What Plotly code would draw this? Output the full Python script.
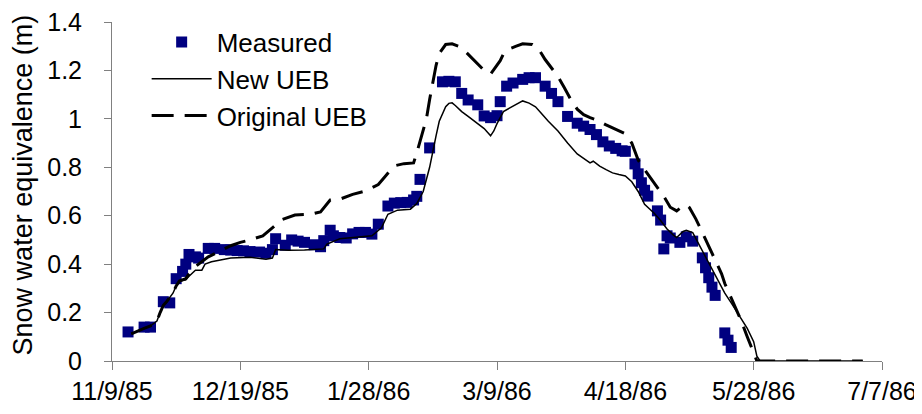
import pandas as pd
import plotly.graph_objects as go

# x values are days after 11/9/85
start = pd.Timestamp("1985-11-09")

measured_day = [5, 10, 12, 16, 18, 20, 22, 23, 24, 26, 27, 30, 32, 35, 37, 39, 41, 43, 46, 48,
                50, 51, 54, 56, 58, 60, 63, 65, 66, 68, 69, 71, 73, 75, 77, 79, 81, 83, 86, 88,
                90, 92, 94, 95, 96, 99, 103, 105, 107, 109, 111, 114, 116, 118, 120, 121, 123, 125, 128, 130,
                132, 135, 137, 139, 142, 145, 147, 149, 151, 153, 155, 157, 159, 160, 163, 164, 165, 166, 167, 170,
                171, 172, 173, 174, 177, 179, 181, 184, 185, 186, 187, 188, 191, 192, 193]
measured_swe = [0.12, 0.14, 0.14, 0.245, 0.24, 0.34, 0.37, 0.40, 0.44, 0.43, 0.425, 0.465, 0.465, 0.46, 0.458, 0.456, 0.455, 0.452, 0.45, 0.445,
                0.46, 0.505, 0.478, 0.50, 0.495, 0.49, 0.48, 0.472, 0.497, 0.54, 0.517, 0.51, 0.508, 0.525, 0.531, 0.531, 0.524, 0.565, 0.64, 0.652,
                0.654, 0.655, 0.665, 0.68, 0.75, 0.88, 1.153, 1.155, 1.153, 1.105, 1.078, 1.058, 1.012, 1.005, 1.013, 1.071, 1.135, 1.148, 1.163, 1.17,
                1.17, 1.135, 1.105, 1.071, 1.01, 0.982, 0.97, 0.956, 0.935, 0.905, 0.888, 0.878, 0.868, 0.866, 0.814, 0.773, 0.736, 0.705, 0.681, 0.62,
                0.582, 0.463, 0.517, 0.508, 0.49, 0.513, 0.495, 0.426, 0.385, 0.344, 0.305, 0.271, 0.116, 0.086, 0.056]

new_day = [6, 8, 10, 12, 13, 14, 15, 16, 17, 19, 20, 21, 23, 24, 26, 28, 29, 31, 33, 37,
           43, 48, 50, 51, 55, 60, 66, 67, 71, 76, 81, 84, 86, 89, 93, 95, 97, 99, 100, 101,
           102, 104, 105, 106, 107, 109, 111, 113, 116, 118, 119, 120, 122, 124, 126, 128, 130, 132, 134, 136,
           139, 142, 145, 147, 149, 150, 152, 154, 156, 158, 160, 162, 164, 166, 169, 171, 173, 175, 176, 178,
           179, 181, 183, 185, 187, 188, 191, 193, 195, 198, 200, 201, 202, 234]
new_swe = [0.112, 0.125, 0.135, 0.145, 0.155, 0.165, 0.20, 0.23, 0.245, 0.28, 0.31, 0.33, 0.335, 0.35, 0.375, 0.375, 0.40, 0.41, 0.415, 0.425,
           0.428, 0.42, 0.425, 0.46, 0.457, 0.458, 0.463, 0.483, 0.505, 0.51, 0.517, 0.55, 0.606, 0.623, 0.627, 0.65, 0.70, 0.80, 0.87, 0.93,
           0.99, 1.05, 1.064, 1.066, 1.055, 1.03, 1.01, 0.99, 0.96, 0.93, 0.95, 0.98, 1.03, 1.045, 1.06, 1.074, 1.065, 1.05, 1.02, 0.99,
           0.95, 0.90, 0.855, 0.835, 0.818, 0.825, 0.805, 0.79, 0.777, 0.77, 0.764, 0.74, 0.70, 0.647, 0.61, 0.58, 0.545, 0.52, 0.51, 0.535,
           0.54, 0.53, 0.48, 0.43, 0.385, 0.36, 0.28, 0.24, 0.20, 0.135, 0.08, 0.02, 0.0, 0.0]

orig_day = [6, 8, 10, 12, 13, 14, 15, 16, 17, 19, 20, 21, 23, 24, 26, 28, 30, 33, 37, 40,
            43, 47, 50, 53, 57, 62, 65, 68, 71, 75, 79, 83, 85, 88, 91, 94, 95, 96, 98, 99,
            100, 101, 102, 104, 106, 108, 110, 113, 116, 118, 119, 121, 122, 124, 126, 128, 131, 133, 135, 137,
            139, 141, 143, 145, 147, 149, 151, 154, 157, 160, 162, 164, 166, 168, 170, 172, 174, 176, 178, 179,
            180, 182, 184, 186, 188, 190, 191, 194, 196, 198, 200, 201, 234]
orig_swe = [0.112, 0.125, 0.135, 0.145, 0.155, 0.165, 0.20, 0.23, 0.245, 0.28, 0.31, 0.33, 0.34, 0.36, 0.39, 0.41, 0.43, 0.45, 0.476, 0.49,
            0.50, 0.517, 0.551, 0.584, 0.603, 0.606, 0.616, 0.665, 0.668, 0.688, 0.702, 0.729, 0.76, 0.806, 0.815, 0.818, 0.86, 0.907, 1.0, 1.08,
            1.147, 1.22, 1.27, 1.307, 1.31, 1.30, 1.28, 1.24, 1.2, 1.185, 1.205, 1.24, 1.268, 1.29, 1.30, 1.31, 1.307, 1.288, 1.245, 1.21,
            1.175, 1.128, 1.08, 1.04, 1.017, 1.005, 0.996, 0.975, 0.955, 0.938, 0.90, 0.83, 0.79, 0.755, 0.72, 0.68, 0.635, 0.62, 0.64, 0.645,
            0.633, 0.586, 0.531, 0.476, 0.42, 0.36, 0.32, 0.23, 0.17, 0.10, 0.035, 0.0, 0.0]

tick_day = [0, 40, 80, 120, 160, 200, 240]
tick_text = ["11/9/85", "12/19/85", "1/28/86", "3/9/86", "4/18/86", "5/28/86", "7/7/86"]
y_ticks = [0, 0.2, 0.4, 0.6, 0.8, 1.0, 1.2, 1.4]
y_text = ["0", "0.2", "0.4", "0.6", "0.8", "1", "1.2", "1.4"]


def to_dates(days):
    return [start + pd.Timedelta(days=d) for d in days]


FONT = "Liberation Sans, Arial, sans-serif"

fig = go.Figure()
fig.add_trace(go.Scatter(
    x=to_dates(measured_day), y=measured_swe, mode="markers", name="Measured",
    marker=dict(symbol="square", size=11, color="#000080"),
))
fig.add_trace(go.Scatter(
    x=to_dates(new_day), y=new_swe, mode="lines", name="New UEB",
    line=dict(color="black", width=1.5),
))
fig.add_trace(go.Scatter(
    x=to_dates(orig_day), y=orig_swe, mode="lines", name="Original UEB",
    line=dict(color="black", width=3, dash="22px,11px"),
))

# the page body adds an 8px offset, so margins are trimmed on the left/top
fig.update_layout(
    width=922, height=414,
    margin=dict(l=104, r=48, t=14, b=61, autoexpand=False),
    plot_bgcolor="white", paper_bgcolor="white",
    font=dict(family=FONT, size=25, color="black"),
    showlegend=True,
    legend=dict(
        x=0.045, y=1.01, xanchor="left", yanchor="top",
        bgcolor="rgba(0,0,0,0)", font=dict(size=26), itemwidth=60,
    ),
)
fig.update_xaxes(
    type="date", automargin=False, ticklabeloverflow="allow",
    range=[start, start + pd.Timedelta(days=240)],
    tickvals=to_dates(tick_day), ticktext=tick_text,
    ticks="outside", ticklen=8, tickcolor="#808080",
    showline=True, linecolor="#808080", linewidth=1,
    showgrid=False, zeroline=False,
)
fig.update_yaxes(
    range=[0, 1.4], tickvals=y_ticks, ticktext=y_text,
    automargin=False, ticklabeloverflow="allow",
    ticks="outside", ticklen=7, tickcolor="#808080",
    showline=True, linecolor="#808080", linewidth=1,
    showgrid=False, zeroline=False, ticklabelstandoff=17,
)
fig.add_annotation(
    text="Snow water equivalence (m)", textangle=-90,
    xref="paper", yref="paper", x=-0.1156, y=0.012,
    xanchor="center", yanchor="bottom", showarrow=False,
    font=dict(family=FONT, size=27, color="black"),
)

fig.write_html("out.html")
